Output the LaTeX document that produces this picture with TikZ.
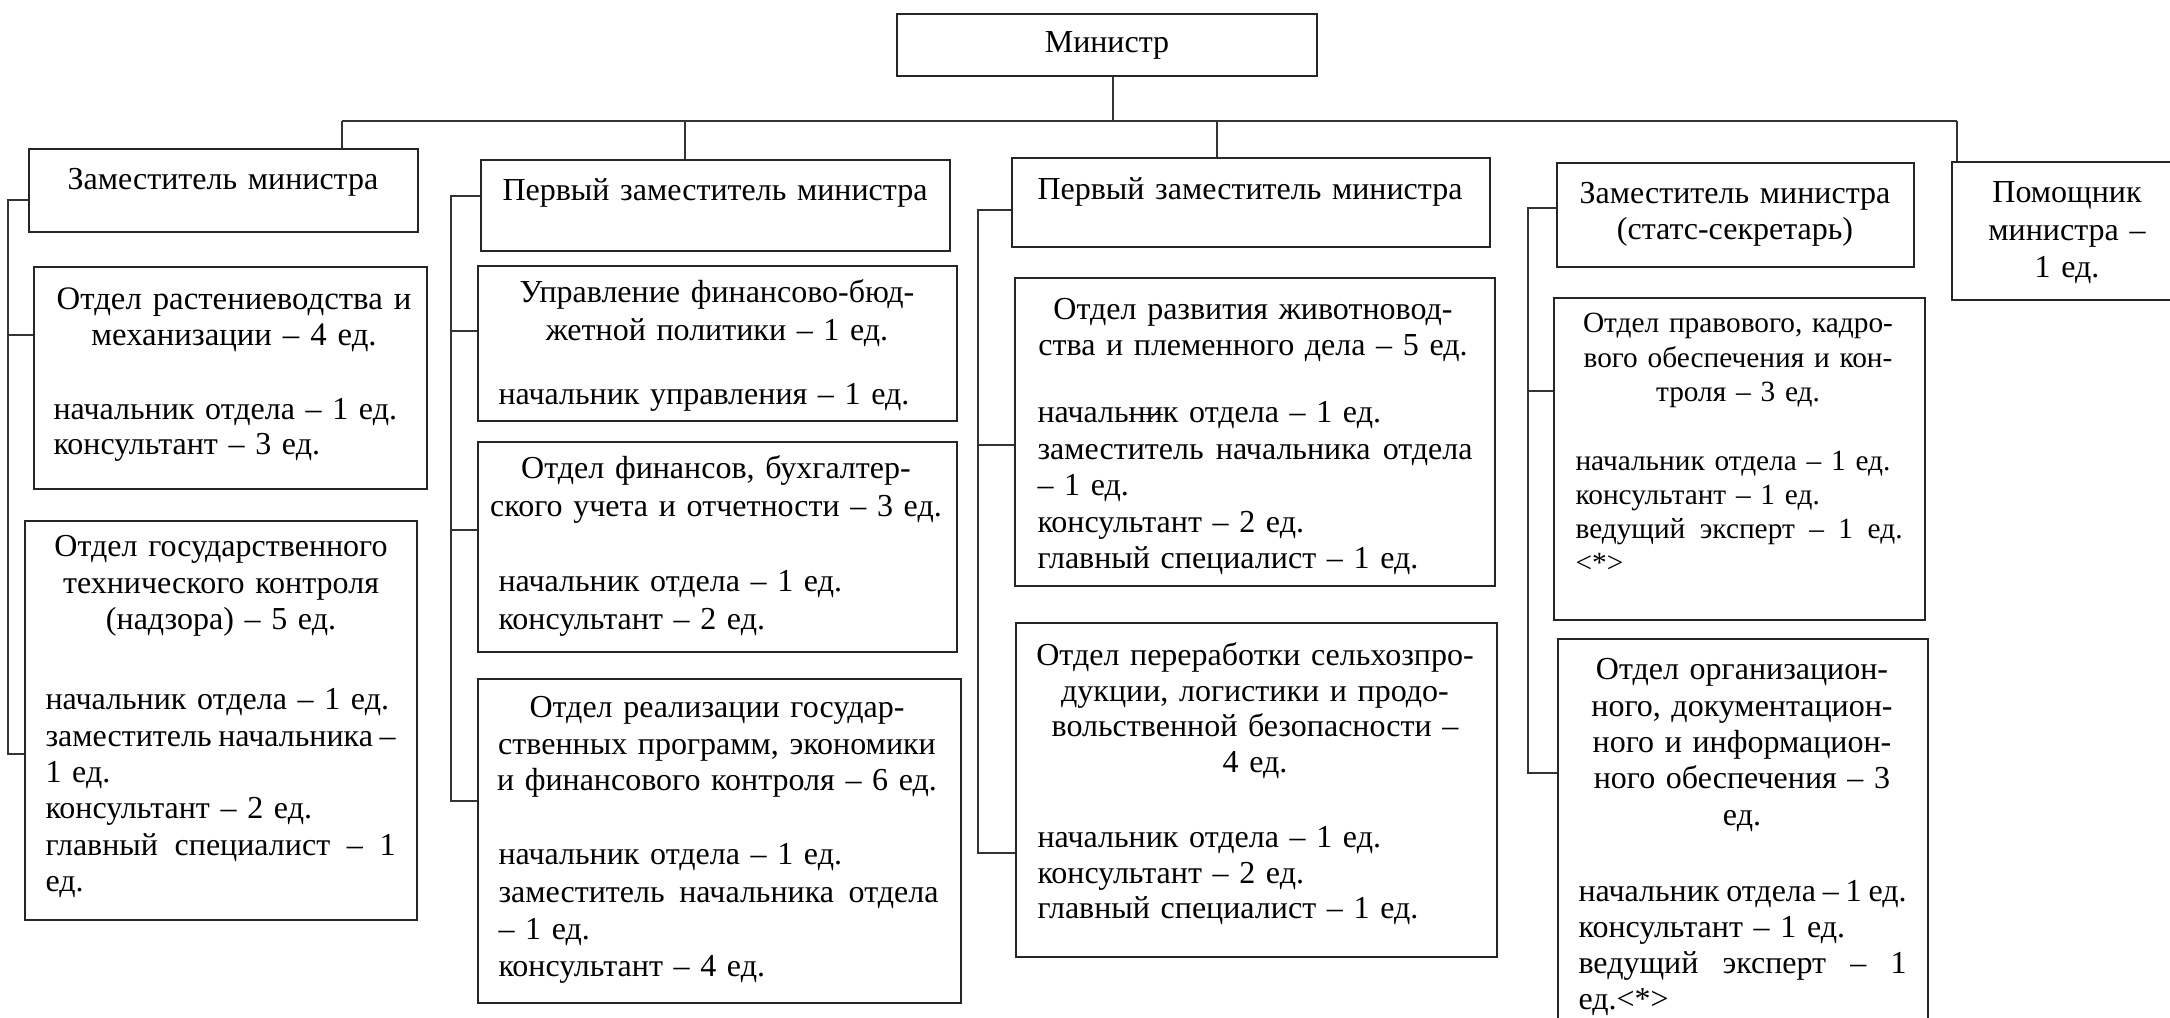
\documentclass[tikz,border=0pt]{standalone}
\usepackage{fontspec}
\setmainfont{Liberation Serif}
\newsavebox\strkbox
\newcommand\strk[1]{\sbox\strkbox{#1}\rlap{\rule[0.24em]{\wd\strkbox}{0.45pt}}\usebox\strkbox}
\newcommand\jl[1]{\makebox[\linewidth][s]{\spaceskip=0.25em plus 1em\relax #1}}
\newcommand\jt[1]{\makebox[\linewidth][s]{\spaceskip=0.12em plus 1em\relax #1}}
\newcommand\mkbox[5]{\node[box, minimum width={(#4-#2)*0.375pt}, minimum height={(#5-#3)*0.375pt}] (#1) at (#2,#3) {};}
\begin{document}
\begin{tikzpicture}[x=0.375pt,y=-0.375pt,
  box/.style={draw=black!85, line width=0.75pt, inner sep=0pt, anchor=north west},
  conn/.style={draw=black!80, line width=0.45pt},
  ttl/.style={anchor=base, align=center, inner sep=0pt, font=\fontsize{12}{13.7}\selectfont},
  bdy/.style={anchor=base west, align=left, inner sep=0pt, font=\fontsize{12}{13.7}\selectfont},
]
\useasboundingbox (0,0) rectangle (2170,1018);

% boxes
\node[box, minimum width={420*0.375pt}, minimum height={62*0.375pt}, font=\fontsize{12}{13.7}\selectfont] (min) at (896,13) {Министр};
\mkbox{z1}{28}{148}{417}{231}
\mkbox{p1}{480}{159}{949}{250}
\mkbox{p2}{1011}{157}{1489}{246}
\mkbox{z2}{1556}{162}{1913}{266}
\mkbox{pom}{1951}{161}{2185}{299}
\mkbox{r1}{33}{266}{426}{488}
\mkbox{r2}{24}{520}{416}{919}
\mkbox{u1}{477}{265}{956}{420}
\mkbox{f1}{477}{441}{956}{651}
\mkbox{g1}{477}{678}{960}{1002}
\mkbox{a1}{1014}{277}{1494}{585}
\mkbox{b1}{1015}{622}{1496}{956}
\mkbox{c1}{1553}{297}{1924}{619}
\mkbox{c2}{1557}{638}{1927}{1030}

% texts, top row
\node[ttl, text width={380*0.375pt}] (z1t) at (223,190) {Заместитель министра};
\node[ttl, text width={460*0.375pt}] (p1t) at (715,201) {Первый заместитель министра};
\node[ttl, text width={460*0.375pt}] (p2t) at (1250,200) {Первый заместитель министра};
\node[ttl, text width={350*0.375pt}, font=\fontsize{12}{13.5}\selectfont] (z2t) at (1735,204) {Заместитель министра\\(статс-секретарь)};
\node[ttl, text width={220*0.375pt}, font=\fontsize{12}{13.9}\selectfont] (pomt) at (2067,203) {Помощник\\министра –\\1 ед.};

% column 1
\node[ttl, text width={385*0.375pt}, font=\fontsize{12.3}{13.2}\selectfont] (r1t) at (234,310) {Отдел растениеводства и\\механизации – 4 ед.};
\node[bdy, text width={360*0.375pt}, font=\fontsize{12}{13.1}\selectfont] (r1b) at (53,420) {начальник отдела – 1 ед.\\консультант – 3 ед.};
\node[ttl, text width={385*0.375pt}, font=\fontsize{12}{13.6}\selectfont] (r2t) at (221,557) {Отдел государственного\\технического контроля\\(надзора) – 5 ед.};
\node[bdy, text width={350*0.375pt}, font=\fontsize{12}{13.6}\selectfont] (r2b) at (45,710) {начальник отдела – 1 ед.\\\jt{заместитель начальника –}\\1 ед.\\консультант – 2 ед.\\\jl{главный специалист – 1}\\ед.};

% column 2
\node[ttl, text width={470*0.375pt}, font=\fontsize{12}{13.9}\selectfont] (u1t) at (717,303) {Управление финансово-бюд-\\жетной политики – 1 ед.};
\node[bdy, text width={440*0.375pt}] (u1b) at (498,405) {начальник управления – 1 ед.};
\node[ttl, text width={470*0.375pt}, font=\fontsize{12}{13.9}\selectfont] (f1t) at (716,479) {Отдел финансов, бухгалтер-\\ского учета и отчетности – 3 ед.};
\node[bdy, text width={440*0.375pt}, font=\fontsize{12}{13.9}\selectfont] (f1b) at (498,592) {начальник отдела – 1 ед.\\консультант – 2 ед.};
\node[ttl, text width={470*0.375pt}, font=\fontsize{12}{13.6}\selectfont] (g1t) at (717,718) {Отдел реализации государ-\\ственных программ, экономики\\и финансового контроля – 6 ед.};
\node[bdy, text width={440*0.375pt}, font=\fontsize{12}{13.9}\selectfont] (g1b) at (498,865) {начальник отдела – 1 ед.\\\jl{заместитель начальника отдела}\\– 1 ед.\\консультант – 4 ед.};

% column 3
\node[ttl, text width={470*0.375pt}, font=\fontsize{12}{13.4}\selectfont] (a1t) at (1253,320) {Отдел развития животновод-\\ства и племенного дела – 5 ед.};
\node[bdy, text width={435*0.375pt}, font=\fontsize{12}{13.65}\selectfont] (a1b) at (1037,423) {началь\strk{ни}к отдела – 1 ед.\\\jl{заместитель начальника отдела}\\– 1 ед.\\консультант – 2 ед.\\главный специалист – 1 ед.};
\node[ttl, text width={470*0.375pt}, font=\fontsize{12}{13.3}\selectfont] (b1t) at (1255,666) {Отдел переработки сельхозпро-\\дукции, логистики и продо-\\вольственной безопасности –\\4 ед.};
\node[bdy, text width={440*0.375pt}, font=\fontsize{12}{13.3}\selectfont] (b1b) at (1037,848) {начальник отдела – 1 ед.\\консультант – 2 ед.\\главный специалист – 1 ед.};

% column 4
\node[ttl, text width={360*0.375pt}, font=\fontsize{11}{12.9}\selectfont] (c1t) at (1738,333) {Отдел правового, кадро-\\вого обеспечения и кон-\\троля – 3 ед.};
\node[bdy, text width={327*0.375pt}, font=\fontsize{11}{12.75}\selectfont] (c1b) at (1575,471) {начальник отдела – 1 ед.\\консультант – 1 ед.\\\jl{ведущий эксперт – 1 ед.}\\<*>};
\node[ttl, text width={360*0.375pt}, font=\fontsize{12}{13.6}\selectfont] (c2t) at (1742,680) {Отдел организацион-\\ного, документацион-\\ного и информацион-\\ного обеспечения – 3\\ед.};
\node[bdy, text width={328*0.375pt}, font=\fontsize{12}{13.6}\selectfont] (c2b) at (1578,901) {\jt{начальник отдела – 1 ед.}\\консультант – 1 ед.\\\jl{ведущий эксперт – 1}\\ед.<*>};

% connectors
\coordinate (bm) at (1113,121);
\coordinate (bA) at (342,121);
\coordinate (bB) at (685,121);
\coordinate (bC) at (1217,121);
\coordinate (bD) at (1957,121);
\draw[conn] (bm |- min.south) -- (bm);
\draw[conn] (bA) -- (bD);
\draw[conn] (bA) -- (bA |- z1.north);
\draw[conn] (bB) -- (bB |- p1.north);
\draw[conn] (bC) -- (bC |- p2.north);
\draw[conn] (bD) -- (bD |- pom.north);

\coordinate (v1t) at (8,200);
\coordinate (v1a) at (8,335);
\coordinate (v1b) at (8,754);
\draw[conn] (z1.west |- v1t) -- (v1t) -- (v1b) -- (r2.west |- v1b);
\draw[conn] (v1a) -- (r1.west |- v1a);

\coordinate (v2t) at (451,196);
\coordinate (v2a) at (451,331);
\coordinate (v2b) at (451,530);
\coordinate (v2c) at (451,801);
\draw[conn] (p1.west |- v2t) -- (v2t) -- (v2c) -- (g1.west |- v2c);
\draw[conn] (v2a) -- (u1.west |- v2a);
\draw[conn] (v2b) -- (f1.west |- v2b);

\coordinate (v3t) at (978,210);
\coordinate (v3a) at (978,445);
\coordinate (v3c) at (978,853);
\draw[conn] (p2.west |- v3t) -- (v3t) -- (v3c) -- (b1.west |- v3c);
\draw[conn] (v3a) -- (a1.west |- v3a);

\coordinate (v4t) at (1528,208);
\coordinate (v4a) at (1528,391);
\coordinate (v4c) at (1528,773);
\draw[conn] (z2.west |- v4t) -- (v4t) -- (v4c) -- (c2.west |- v4c);
\draw[conn] (v4a) -- (c1.west |- v4a);
\end{tikzpicture}
\end{document}
